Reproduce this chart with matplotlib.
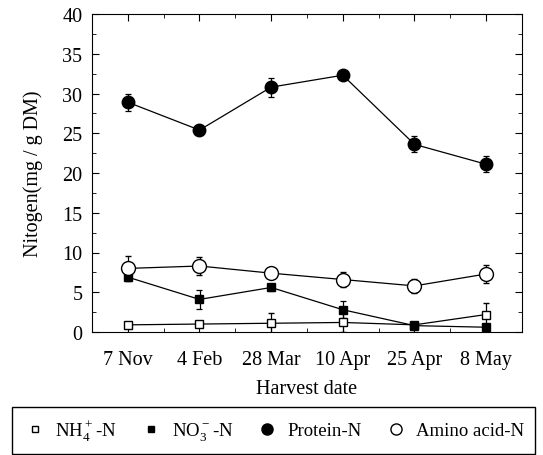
import matplotlib
matplotlib.use("Agg")
import matplotlib.pyplot as plt
from matplotlib.ticker import MultipleLocator, FixedLocator
from matplotlib.lines import Line2D
from matplotlib.patches import Rectangle
import numpy as np

plt.rcParams['font.family'] = ['Liberation Serif', 'DejaVu Serif']
plt.rcParams['mathtext.fontset'] = 'custom'
plt.rcParams['mathtext.rm'] = 'Liberation Serif'

dates = ["7 Nov", "4 Feb", "28 Mar", "10 Apr", "25 Apr", "8 May"]
nh4 = [0.9, 1.0, 1.1, 1.2, 0.9, 2.2]
nh4_err = [0.2, 0.2, 1.3, 1.2, 0.1, 1.4]
no3 = [6.9, 4.1, 5.6, 2.8, 0.8, 0.6]
no3_err = [0.3, 1.2, 0.5, 1.1, 0.1, 0.1]
protein = [28.9, 25.4, 30.8, 32.3, 23.6, 21.1]
protein_err = [1.1, 0.3, 1.2, 0.3, 1.0, 1.0]
amino = [8.0, 8.3, 7.4, 6.6, 5.8, 7.3]
amino_err = [1.6, 1.1, 0.3, 1.0, 0.9, 1.1]

fig = plt.figure(figsize=(5.43, 4.56), dpi=100)
ax = fig.add_axes([92/543, 1-333/456, 430/543, 318/456])
x = np.arange(len(dates))

common = dict(color='black', lw=0.9, capsize=2.5, elinewidth=0.9, capthick=0.9)
ax.errorbar(x, nh4, yerr=nh4_err, marker='s', ms=6, mfc='white', mec='black', mew=1.0, **common)
ax.errorbar(x, no3, yerr=no3_err, marker='s', ms=6, mfc='black', mec='black', **common)
ax.errorbar(x, protein, yerr=protein_err, marker='o', ms=9, mfc='black', mec='black', **common)
ax.errorbar(x, amino, yerr=amino_err, marker='o', ms=10, mfc='white', mec='black', mew=1.0, **common)

ax.set_xlim(-0.5, 5.5)
ax.set_ylim(0, 40)
ax.set_xticks(x)
ax.set_xticklabels(dates, fontsize=14.5)
ax.xaxis.set_minor_locator(FixedLocator(x[:-1] + 0.5))
ax.yaxis.set_major_locator(MultipleLocator(5))
ax.yaxis.set_minor_locator(MultipleLocator(2.5))
ax.tick_params(which='both', direction='in', top=True, right=True, labelsize=14.5)
ax.tick_params(axis='x', which='major', length=5, pad=13)
ax.tick_params(axis='y', which='major', length=5, pad=7)
ax.tick_params(which='minor', length=3)
ax.set_xlabel("Harvest date", fontsize=14.5, labelpad=7)
ax.set_ylabel("Nitogen(mg / g DM)", fontsize=14.5, labelpad=14)

handles = [Line2D([], [], ls='none', marker='s', ms=5, mfc='white', mec='black'),
           Line2D([], [], ls='none', marker='s', ms=5, mfc='black', mec='black'),
           Line2D([], [], ls='none', marker='o', ms=8, mfc='black', mec='black'),
           Line2D([], [], ls='none', marker='o', ms=8, mfc='white', mec='black')]
labels = [r"NH$_4^+$-N", r"NO$_3^-$-N", "Protein-N", "Amino acid-N"]
leg = fig.legend(handles, labels, loc='center', bbox_to_anchor=(274/543, 1-431/456),
                 ncol=4, frameon=False, fontsize=13.5,
                 handletextpad=0.5, columnspacing=1.2, handlelength=1.2)
fig.patches.append(Rectangle((12/543, 1-455/456), 523/543, 47/456, transform=fig.transFigure,
                             fill=False, edgecolor='black', lw=1.0))

fig.savefig("out.png", dpi=100)
